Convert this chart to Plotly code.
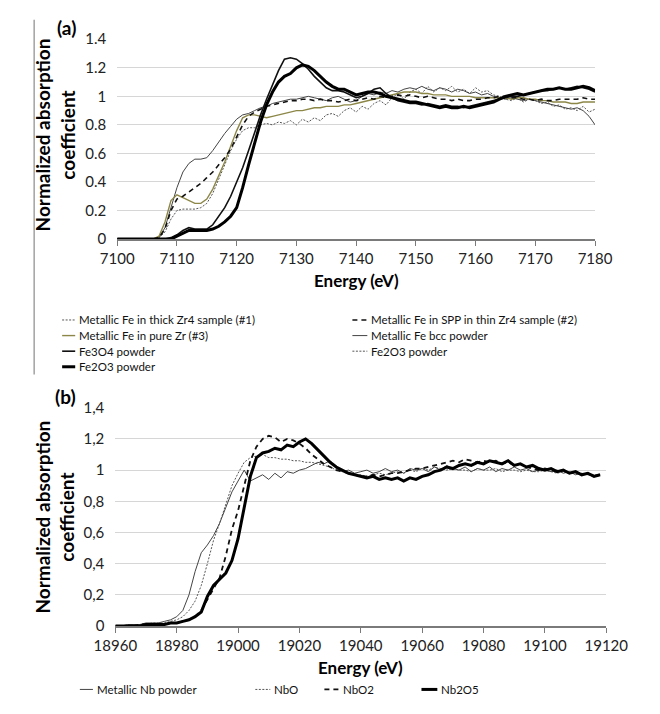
import plotly.graph_objects as go

W, H = 660, 714
FONT = "Lato"

# ---------------- (a) Fe K-edge ----------------
energy_fe = list(range(7100, 7181))

fe_thick_zr4 = [0, 0, 0, 0, 0, 0, 0,
                0.01, 0.05, 0.14, 0.20, 0.21, 0.21, 0.21, 0.22, 0.25,
                0.32, 0.42, 0.52, 0.62, 0.70, 0.76, 0.78, 0.78, 0.80, 0.81,
                0.80, 0.82, 0.81, 0.83, 0.80, 0.84, 0.82, 0.85, 0.83, 0.87,
                0.88, 0.86, 0.90, 0.92, 0.89, 0.93, 0.91, 0.95, 0.97, 0.94,
                0.99, 1.02, 0.98, 1.03, 1.05, 1.02, 1.07, 1.03, 1.06, 1.04,
                1.07, 1.03, 1.05, 1.02, 1.06, 1.03, 1.04, 1.01, 1.00, 0.98,
                0.97, 0.99, 0.96, 0.98, 0.97, 0.95, 0.96, 0.93, 0.94, 0.91,
                0.92, 0.90, 0.93, 0.89, 0.91]

fe_spp_thin_zr4 = [0, 0, 0, 0, 0, 0, 0,
                   0.01, 0.07, 0.20, 0.28, 0.30, 0.33, 0.36, 0.39, 0.43,
                   0.47, 0.52, 0.57, 0.63, 0.72, 0.80, 0.86, 0.89, 0.91, 0.93,
                   0.94, 0.95, 0.96, 0.97, 0.97, 0.98, 0.98, 0.97, 0.98, 0.97,
                   0.97, 0.96, 0.97, 0.98, 0.97, 0.98, 0.99, 0.98, 1.00, 0.99,
                   1.00, 1.01, 1.00, 1.01, 1.00, 0.99, 1.00, 0.99, 0.98, 0.98,
                   0.97, 0.98, 0.97, 0.97, 0.98, 0.98, 0.99, 0.99, 1.00, 1.00,
                   0.99, 0.99, 0.98, 0.98, 0.97, 0.98, 0.97, 0.97, 0.98, 0.98,
                   0.98, 0.98, 0.99, 0.98, 0.98]

fe_pure_zr = [0, 0, 0, 0, 0, 0, 0,
              0.02, 0.12, 0.27, 0.31, 0.29, 0.27, 0.25, 0.25, 0.28,
              0.35, 0.44, 0.54, 0.65, 0.76, 0.85, 0.87, 0.87, 0.86, 0.85,
              0.86, 0.87, 0.88, 0.89, 0.90, 0.90, 0.91, 0.92, 0.92, 0.93,
              0.93, 0.93, 0.94, 0.94, 0.95, 0.96, 0.97, 0.98, 0.99, 1.00,
              1.01, 1.02, 1.03, 1.03, 1.03, 1.02, 1.02, 1.01, 1.01, 1.01,
              1.00, 1.00, 1.00, 1.00, 0.99, 0.99, 0.99, 0.99, 0.99, 0.99,
              0.98, 0.99, 0.99, 0.98, 0.98, 0.97, 0.97, 0.96, 0.96, 0.96,
              0.95, 0.95, 0.96, 0.96, 0.96]

fe_bcc = [0, 0, 0, 0, 0, 0, 0,
          0.01, 0.08, 0.22, 0.36, 0.47, 0.53, 0.56, 0.56, 0.57,
          0.62, 0.68, 0.74, 0.79, 0.84, 0.87, 0.88, 0.90, 0.92, 0.93,
          0.95, 0.96, 0.97, 0.98, 0.98, 0.99, 1.00, 0.99, 0.98, 0.97,
          0.99, 1.00, 0.98, 0.96, 0.97, 1.00, 1.02, 1.01, 1.03, 1.02,
          1.04, 1.03, 1.05, 1.06, 1.05, 1.07, 1.05, 1.04, 1.06, 1.05,
          1.03, 1.05, 1.04, 1.02, 1.03, 1.01, 1.02, 1.00, 0.99, 0.98,
          0.99, 0.98, 0.97, 0.98, 0.97, 0.96, 0.95, 0.94, 0.93, 0.92,
          0.91, 0.92, 0.90, 0.86, 0.80]

fe3o4 = [0, 0, 0, 0, 0, 0, 0,
         0, 0, 0.01, 0.03, 0.06, 0.08, 0.07, 0.07, 0.07,
         0.10, 0.16, 0.22, 0.30, 0.40, 0.50, 0.62, 0.75, 0.87, 0.98,
         1.08, 1.18, 1.26, 1.27, 1.26, 1.23, 1.19, 1.14, 1.10, 1.06,
         1.04, 1.04, 1.03, 1.01, 0.99, 1.00, 1.02, 1.05, 1.06, 1.02,
         0.99, 0.97, 0.96, 0.95, 0.95, 0.94, 0.95, 0.94, 0.93, 0.94,
         0.93, 0.93, 0.92, 0.93, 0.94, 0.95, 0.96, 0.97, 0.98, 0.99,
         1.00, 1.00, 1.01, 1.02, 1.03, 1.04, 1.04, 1.05, 1.06, 1.05,
         1.06, 1.07, 1.06, 1.05, 1.03]

fe2o3 = [0, 0, 0, 0, 0, 0, 0,
         0, 0, 0, 0.02, 0.04, 0.06, 0.06, 0.06, 0.06,
         0.07, 0.09, 0.12, 0.16, 0.22, 0.36, 0.52, 0.68, 0.82, 0.94,
         1.03, 1.10, 1.14, 1.16, 1.20, 1.22, 1.21, 1.18, 1.14, 1.10,
         1.07, 1.05, 1.05, 1.03, 1.01, 1.02, 1.03, 1.03, 1.02, 1.00,
         0.99, 0.98, 0.97, 0.96, 0.96, 0.95, 0.94, 0.93, 0.92, 0.93,
         0.92, 0.92, 0.93, 0.92, 0.93, 0.94, 0.95, 0.96, 0.98, 1.00,
         1.01, 1.02, 1.01, 1.02, 1.03, 1.04, 1.05, 1.05, 1.06, 1.05,
         1.05, 1.06, 1.07, 1.06, 1.04]

fe_xticks = list(range(7100, 7181, 10))
fe_yticks = [0, 0.2, 0.4, 0.6, 0.8, 1.0, 1.2, 1.4]
fe_yticklabels = ["0", "0.2", "0.4", "0.6", "0.8", "1", "1.2", "1.4"]

# ---------------- (b) Nb K-edge ----------------
energy_nb = list(range(18960, 19119, 2))

nb_metal = [0.00, 0.00, 0.01, 0.01, 0.01, 0.02, 0.02, 0.02, 0.03, 0.04,
            0.06, 0.10, 0.20, 0.35, 0.47, 0.52, 0.58, 0.66, 0.76, 0.86,
            0.93, 1.00, 0.93, 0.95, 0.97, 0.94, 0.98, 0.95, 0.99, 0.98,
            1.00, 1.01, 1.03, 1.05, 1.04, 1.06, 1.01, 0.99, 1.00, 0.98,
            0.99, 1.00, 0.98, 0.99, 1.01, 0.99, 1.00, 0.98, 1.01, 1.00,
            1.01, 0.99, 1.02, 1.00, 1.03, 1.01, 1.00, 1.02, 0.99, 1.01,
            1.00, 1.02, 0.99, 1.01, 1.00, 1.02, 1.00, 1.01, 0.99, 1.00,
            1.00, 0.99, 1.00, 0.98, 0.99, 0.97, 0.98, 0.97, 0.96, 0.97]

nbo = [0.00, 0.00, 0.00, 0.01, 0.01, 0.01, 0.02, 0.02, 0.02, 0.03,
       0.04, 0.06, 0.10, 0.16, 0.26, 0.40, 0.55, 0.66, 0.78, 0.90,
       0.98, 1.05, 1.08, 1.09, 1.10, 1.08, 1.08, 1.07, 1.07, 1.06,
       1.06, 1.05, 1.05, 1.04, 1.03, 1.02, 1.00, 0.99, 0.98, 0.97,
       0.97, 0.96, 0.97, 0.98, 0.97, 0.98, 0.99, 0.98, 1.00, 0.99,
       1.01, 1.00, 1.02, 1.01, 1.00, 1.01, 1.00, 1.00, 0.99, 1.01,
       1.00, 1.00, 1.01, 0.99, 1.00, 1.00, 0.99, 1.00, 0.99, 0.99,
       1.00, 0.99, 0.98, 0.99, 0.98, 0.98, 0.97, 0.98, 0.97, 0.97]

nbo2 = [0.00, 0.00, 0.00, 0.00, 0.01, 0.01, 0.01, 0.01, 0.01, 0.02,
        0.02, 0.03, 0.04, 0.06, 0.10, 0.17, 0.24, 0.31, 0.45, 0.62,
        0.74, 0.90, 1.06, 1.15, 1.20, 1.22, 1.21, 1.18, 1.20, 1.19,
        1.17, 1.14, 1.10, 1.07, 1.04, 1.02, 1.00, 0.99, 0.98, 0.97,
        0.96, 0.96, 0.97, 0.96, 0.97, 0.98, 0.98, 0.99, 1.00, 1.01,
        1.01, 1.02, 1.03, 1.04, 1.05, 1.06, 1.05, 1.07, 1.06, 1.05,
        1.06, 1.05, 1.06, 1.04, 1.05, 1.03, 1.04, 1.02, 1.01, 1.00,
        1.01, 1.00, 0.99, 1.00, 0.98, 0.99, 0.97, 0.98, 0.96, 0.97]

nb2o5 = [0.00, 0.00, 0.00, 0.00, 0.00, 0.01, 0.01, 0.01, 0.01, 0.02,
         0.02, 0.03, 0.04, 0.06, 0.09, 0.19, 0.26, 0.30, 0.34, 0.42,
         0.56, 0.76, 0.96, 1.08, 1.11, 1.12, 1.14, 1.13, 1.16, 1.15,
         1.18, 1.20, 1.17, 1.13, 1.09, 1.05, 1.02, 1.00, 0.98, 0.97,
         0.96, 0.95, 0.96, 0.94, 0.95, 0.94, 0.95, 0.93, 0.95, 0.94,
         0.96, 0.97, 0.99, 1.00, 1.02, 1.01, 1.03, 1.04, 1.03, 1.05,
         1.04, 1.06, 1.05, 1.04, 1.06, 1.03, 1.04, 1.02, 1.03, 1.01,
         1.00, 1.01, 0.99, 1.00, 0.98, 0.99, 0.97, 0.98, 0.96, 0.97]

nb_xticks = list(range(18960, 19121, 20))
nb_yticks = [0, 0.2, 0.4, 0.6, 0.8, 1.0, 1.2, 1.4]
nb_yticklabels = ["0", "0,2", "0,4", "0,6", "0,8", "1", "1,2", "1,4"]

# ---------------- series styles ----------------
fe_series = [
    # name, values, color, width, dash, legend column, legend row
    ("Fe2O3 powder", fe2o3, "#555555", 1.0, "2px,1.5px", 1, 2),
    ("Metallic Fe in thick Zr4 sample (#1)", fe_thick_zr4, "#555555", 1.0, "2px,1.5px", 0, 0),
    ("Metallic Fe bcc powder", fe_bcc, "#444444", 1.0, "solid", 1, 1),
    ("Metallic Fe in pure Zr (#3)", fe_pure_zr, "#8C8747", 1.4, "solid", 0, 1),
    ("Metallic Fe in SPP in thin Zr4 sample (#2)", fe_spp_thin_zr4, "#111111", 1.6, "5px,4px", 1, 0),
    ("Fe3O4 powder", fe3o4, "#111111", 1.6, "solid", 0, 2),
    ("Fe2O3 powder", fe2o3, "#000000", 3.0, "solid", 0, 3),
]

nb_series = [
    ("Metallic Nb powder", nb_metal, "#444444", 1.0, "solid"),
    ("NbO", nbo, "#555555", 1.0, "2px,1.5px"),
    ("NbO2", nbo2, "#111111", 1.8, "5px,4px"),
    ("Nb2O5", nb2o5, "#000000", 3.0, "solid"),
]


def px(x):
    return x / W


def py(y):
    return 1 - y / H


fig = go.Figure()

for name, vals, color, width, dash, _, _ in fe_series:
    fig.add_trace(go.Scatter(x=energy_fe, y=vals, mode="lines", name=name,
                             line=dict(color=color, width=width, dash=dash),
                             xaxis="x", yaxis="y", showlegend=False))

for name, vals, color, width, dash in nb_series:
    fig.add_trace(go.Scatter(x=energy_nb, y=vals, mode="lines", name=name,
                             line=dict(color=color, width=width, dash=dash),
                             xaxis="x2", yaxis="y2", showlegend=False))

tick_font = dict(family=FONT, size=15, color="#222222")
axis_line = dict(showline=True, linecolor="#7a7a7a", linewidth=1.5,
                 ticks="outside", ticklen=5, tickcolor="#7a7a7a", tickwidth=1.2,
                 showgrid=False, zeroline=False, tickfont=tick_font, tickformat="d")
y_common = dict(showline=False, zeroline=False, showgrid=True,
                gridcolor="#D6D6D6", gridwidth=1.3, ticks="",
                ticklabelstandoff=10, tickfont=tick_font)

fig.update_layout(
    width=W, height=H,
    margin=dict(l=0, r=0, t=0, b=0),
    paper_bgcolor="white", plot_bgcolor="white",
    font=dict(family=FONT, color="#111111"),
    xaxis=dict(domain=[px(102), px(614)], anchor="y", range=[7100, 7180],
               tickvals=fe_xticks, **axis_line),
    yaxis=dict(domain=[py(235), py(30)], anchor="x", range=[0, 1.4],
               tickvals=fe_yticks, ticktext=fe_yticklabels, **y_common),
    xaxis2=dict(domain=[px(100), px(626)], anchor="y2", range=[18960, 19120],
                tickvals=nb_xticks, **axis_line),
    yaxis2=dict(domain=[py(632), py(408)], anchor="x2", range=[0, 1.4],
                tickvals=nb_yticks, ticktext=nb_yticklabels, **y_common),
)

annotations = []
shapes = []

# panel letters
annotations.append(dict(text="<b>(a)</b>", x=px(35), y=py(18), xref="paper", yref="paper",
                        xanchor="left", yanchor="middle", showarrow=False,
                        font=dict(family=FONT, size=19, color="#000")))
annotations.append(dict(text="<b>(b)</b>", x=px(33), y=py(396), xref="paper", yref="paper",
                        xanchor="left", yanchor="middle", showarrow=False,
                        font=dict(family=FONT, size=19, color="#000")))

# y-axis titles
for yc in (128, 520):
    annotations.append(dict(text="<b>Normalized absorption<br>coefficient</b>",
                            x=px(35), y=py(yc), xref="paper", yref="paper",
                            xanchor="center", yanchor="middle", textangle=-90,
                            showarrow=False,
                            font=dict(family=FONT, size=19, color="#000")))

# x-axis titles
annotations.append(dict(text="<b>Energy (eV)</b>", x=px(358), y=py(277), xref="paper",
                        yref="paper", xanchor="center", yanchor="middle", showarrow=False,
                        font=dict(family=FONT, size=17, color="#000")))
annotations.append(dict(text="<b>Energy (eV)</b>", x=px(363), y=py(674), xref="paper",
                        yref="paper", xanchor="center", yanchor="middle", showarrow=False,
                        font=dict(family=FONT, size=17, color="#000")))

legend_font = dict(family=FONT, size=11.5, color="#111111")

# legend for (a): two columns
col_x = [(43, 59), (354, 372)]
row_y = [318, 334, 350, 366]
for name, vals, color, width, dash, col, row in fe_series:
    x0, xt = col_x[col]
    y = row_y[row]
    shapes.append(dict(type="line", xref="paper", yref="paper",
                       x0=px(x0), x1=px(xt - 2), y0=py(y), y1=py(y),
                       line=dict(color=color, width=width, dash=dash)))
    annotations.append(dict(text=name, x=px(xt), y=py(y), xref="paper", yref="paper",
                            xanchor="left", yanchor="middle", showarrow=False,
                            font=legend_font))

# legend for (b): single row
nb_leg_x = [(62, 78), (250, 268), (324, 342), (428, 447)]
for (name, vals, color, width, dash), (x0, xt) in zip(nb_series, nb_leg_x):
    shapes.append(dict(type="line", xref="paper", yref="paper",
                       x0=px(x0), x1=px(xt - 2), y0=py(697), y1=py(697),
                       line=dict(color=color, width=width, dash=dash)))
    annotations.append(dict(text=name, x=px(xt), y=py(697), xref="paper", yref="paper",
                            xanchor="left", yanchor="middle", showarrow=False,
                            font=legend_font))

# left border line of the upper panel
shapes.append(dict(type="line", xref="paper", yref="paper",
                   x0=px(13), x1=px(13), y0=py(10), y1=py(374),
                   line=dict(color="#8a8a8a", width=1.2)))

fig.update_layout(annotations=annotations, shapes=shapes)

fig.write_html("out.html")
